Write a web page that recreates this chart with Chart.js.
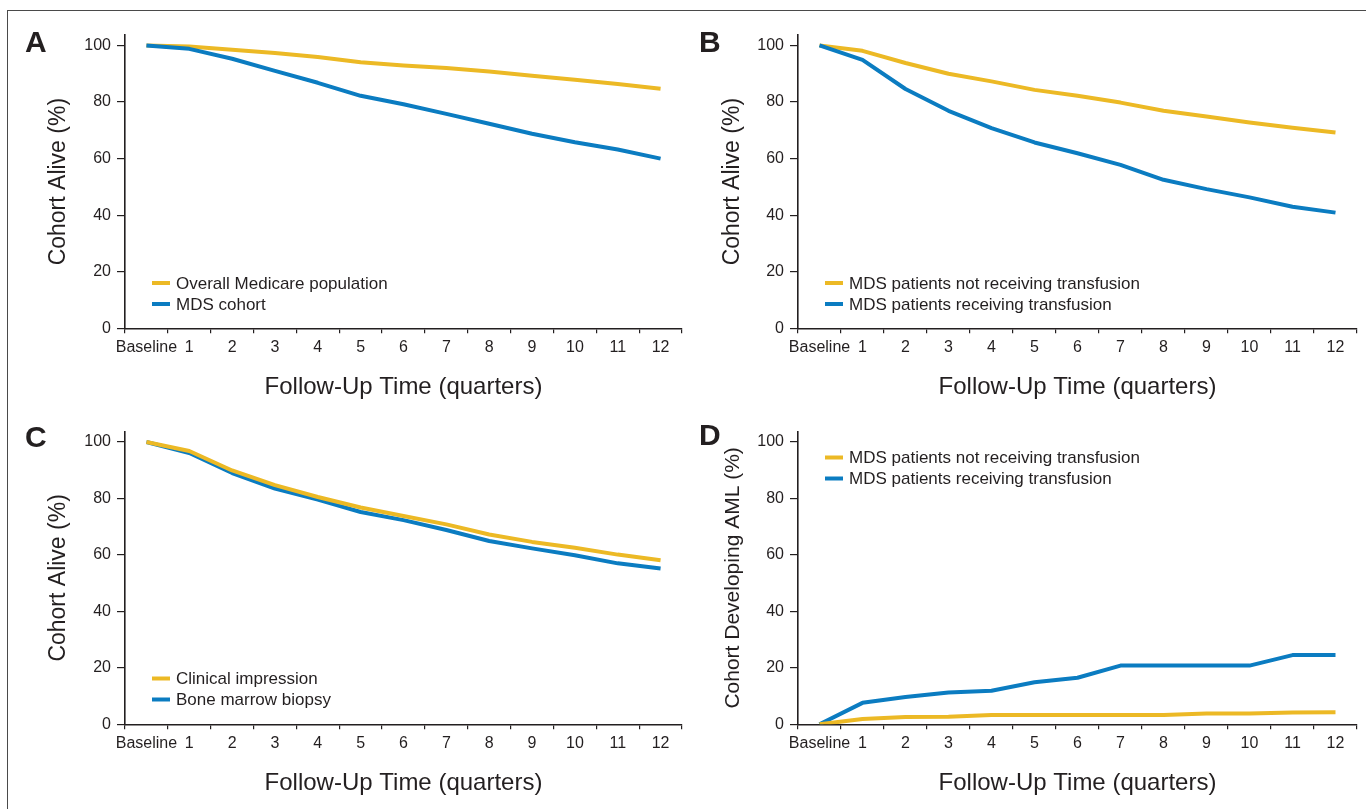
<!DOCTYPE html>
<html>
<head>
<meta charset="utf-8">
<script src="https://cdn.jsdelivr.net/npm/chart.js@4.4.0/dist/chart.umd.min.js"></script>
<style>
  html, body { margin: 0; padding: 0; background: #ffffff; width: 1366px; height: 809px; overflow: hidden; }
  #frame { position: absolute; left: 7px; top: 10px; width: 1420px; height: 900px; border: 1.5px solid #4a4a4a; box-sizing: border-box; }
  .pane { position: absolute; }
  .letter { position: absolute; font: bold 30px 'Liberation Sans', Arial, Helvetica, sans-serif; color: #231f20; line-height: 1; }
</style>
</head>
<body>
<div id="frame"></div>
<canvas id="cA" class="pane" width="683" height="405" style="left:0px;top:0px;width:683px;height:405px;"></canvas>
<canvas id="cB" class="pane" width="683" height="405" style="left:683px;top:0px;width:683px;height:405px;"></canvas>
<canvas id="cC" class="pane" width="683" height="405" style="left:0px;top:404px;width:683px;height:405px;"></canvas>
<canvas id="cD" class="pane" width="683" height="405" style="left:683px;top:404px;width:683px;height:405px;"></canvas>
<div class="letter" style="left:25px;top:27px;">A</div>
<div class="letter" style="left:699px;top:27px;">B</div>
<div class="letter" style="left:25px;top:422px;">C</div>
<div class="letter" style="left:699px;top:420px;">D</div>

<script>
// ---------------- DATA ----------------
const quarterLabels = ['Baseline', '1', '2', '3', '4', '5', '6', '7', '8', '9', '10', '11', '12'];

const xTitle = 'Follow-Up Time (quarters)';
const yTitleAlive = 'Cohort Alive (%)';
const yTitleAML = 'Cohort Developing AML (%)';

// Panel A
const legendA = ['Overall Medicare population', 'MDS cohort'];
const medicarePopulation = [100, 99.6, 98.5, 97.3, 95.9, 94.1, 92.9, 92.0, 90.8, 89.3, 87.9, 86.4, 84.7];
const mdsCohort          = [100, 98.8, 95.3, 91.0, 86.8, 82.2, 79.2, 75.8, 72.3, 68.8, 65.8, 63.2, 60.0];

// Panel B
const legendB = ['MDS patients not receiving transfusion', 'MDS patients receiving transfusion'];
const aliveNoTransfusion = [100, 98.1, 93.8, 90.0, 87.3, 84.3, 82.2, 79.8, 76.9, 74.9, 72.8, 70.9, 69.2];
const aliveTransfusion   = [100, 94.9, 84.6, 76.9, 70.8, 65.7, 61.9, 57.8, 52.5, 49.2, 46.3, 43.0, 40.9];

// Panel C
const legendC = ['Clinical impression', 'Bone marrow biopsy'];
const clinicalImpression = [100, 96.8, 89.9, 84.7, 80.5, 76.8, 73.8, 70.8, 67.2, 64.6, 62.5, 60.1, 58.1];
const boneMarrowBiopsy   = [100, 96.1, 89.0, 83.5, 79.6, 75.2, 72.3, 68.8, 64.9, 62.3, 59.9, 57.0, 55.2];

// Panel D
const legendD = ['MDS patients not receiving transfusion', 'MDS patients receiving transfusion'];
const amlNoTransfusion = [0, 1.9, 2.6, 2.7, 3.3, 3.3, 3.3, 3.3, 3.3, 3.8, 3.8, 4.2, 4.3];
const amlTransfusion   = [0, 7.6, 9.7, 11.3, 11.9, 14.9, 16.5, 20.8, 20.8, 20.8, 20.8, 24.5, 24.5];

// ---------------- STYLE ----------------
const FONT = "'Liberation Sans', Arial, Helvetica, sans-serif";
const TEXT = '#231f20';
const AXIS = '#231f20';
const YELLOW = '#ecb925';
const BLUE = '#0b7cc1';

Chart.defaults.font.family = FONT;
Chart.defaults.color = TEXT;

const insideLegend = {
  id: 'insideLegend',
  afterDatasetsDraw(chart, args, opts) {
    const ctx = chart.ctx;
    ctx.save();
    ctx.font = opts.size + 'px ' + FONT;
    ctx.textBaseline = 'middle';
    ctx.textAlign = 'left';
    chart.data.datasets.forEach((ds, i) => {
      const y = opts.y + i * opts.gap;
      ctx.strokeStyle = ds.borderColor;
      ctx.lineWidth = 4;
      ctx.lineCap = 'butt';
      ctx.beginPath();
      ctx.moveTo(opts.x, y);
      ctx.lineTo(opts.x + 18, y);
      ctx.stroke();
      ctx.fillStyle = TEXT;
      ctx.fillText(ds.label, opts.x + 24, y + 1);
    });
    ctx.restore();
  }
};

function makePanel(id, cfg) {
  const datasets = [
    { label: cfg.legend[0], data: cfg.series[0], borderColor: YELLOW, order: cfg.yellowOnTop ? 0 : 1 },
    { label: cfg.legend[1], data: cfg.series[1], borderColor: BLUE, order: cfg.yellowOnTop ? 1 : 0 }
  ].map(d => Object.assign(d, {
    borderWidth: 4, pointRadius: 0, pointHoverRadius: 0, tension: 0,
    fill: false, borderJoinStyle: 'round', borderCapStyle: 'butt'
  }));

  new Chart(document.getElementById(id), {
    type: 'line',
    data: { labels: quarterLabels, datasets },
    plugins: [insideLegend],
    options: {
      responsive: false,
      animation: false,
      devicePixelRatio: 1,
      layout: { padding: cfg.padding },
      plugins: {
        legend: { display: false },
        tooltip: { enabled: false },
        insideLegend: cfg.legendPos
      },
      scales: {
        x: {
          type: 'category',
          offset: true,
          grid: { display: true, offset: true, drawOnChartArea: false, drawTicks: true, tickLength: 5, color: AXIS, lineWidth: 1.2 },
          border: { display: true, color: AXIS, width: 1.6 },
          ticks: { font: { size: 16 }, color: TEXT, padding: 5, maxRotation: 0, autoSkip: false },
          title: { display: true, text: xTitle, font: { size: 24 }, color: TEXT, padding: { top: 0, bottom: 2.6 } },
          afterFit: (s) => { s.height = 76; }
        },
        y: {
          type: 'linear',
          min: 0,
          max: 103.7,
          grid: { display: true, drawOnChartArea: false, drawTicks: true, tickLength: 8, color: AXIS, lineWidth: 1.2 },
          border: { display: true, color: AXIS, width: 1.6 },
          ticks: { stepSize: 20, font: { size: 16 }, color: TEXT, padding: 6, includeBounds: false },
          afterBuildTicks: (s) => { s.ticks = s.ticks.filter(t => t.value <= 100); },
          title: { display: true, text: cfg.yTitle, font: { size: cfg.yTitleSize }, color: TEXT, padding: { top: cfg.yTitlePad, bottom: 0 } },
          afterFit: (s) => { s.width = cfg.yWidth; }
        }
      }
    }
  });
}

makePanel('cA', {
  legend: legendA, series: [medicarePopulation, mdsCohort], yellowOnTop: false,
  yTitle: yTitleAlive, yTitleSize: 23, yTitlePad: 45, yWidth: 125,
  padding: { left: 0, top: 35, right: 1, bottom: 0.7 },
  legendPos: { x: 152, y: 283, gap: 21, size: 17 }
});
makePanel('cB', {
  legend: legendB, series: [aliveNoTransfusion, aliveTransfusion], yellowOnTop: false,
  yTitle: yTitleAlive, yTitleSize: 23, yTitlePad: 36.2, yWidth: 115,
  padding: { left: 0, top: 35, right: 9, bottom: 0.7 },
  legendPos: { x: 142, y: 283, gap: 21, size: 17 }
});
makePanel('cC', {
  legend: legendC, series: [clinicalImpression, boneMarrowBiopsy], yellowOnTop: true,
  yTitle: yTitleAlive, yTitleSize: 23, yTitlePad: 45, yWidth: 125,
  padding: { left: 0, top: 27.5, right: 1, bottom: 8.7 },
  legendPos: { x: 152, y: 274.5, gap: 21, size: 17 }
});
makePanel('cD', {
  legend: legendD, series: [amlNoTransfusion, amlTransfusion], yellowOnTop: true,
  yTitle: yTitleAML, yTitleSize: 21, yTitlePad: 37.4, yWidth: 115,
  padding: { left: 0, top: 27.5, right: 9, bottom: 8.7 },
  legendPos: { x: 142, y: 53.5, gap: 21, size: 17 }
});
</script>
</body>
</html>
